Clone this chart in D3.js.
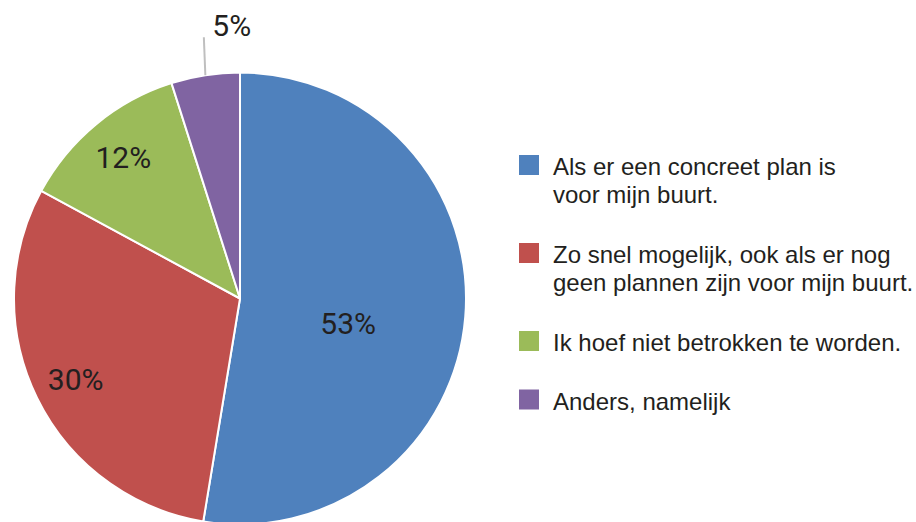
<!DOCTYPE html>
<html>
<head>
<meta charset="utf-8">
<script src="https://cdn.jsdelivr.net/npm/d3@7"></script>
<style>
  body { margin: 0; background: #fff; }
  svg { display: block; }
</style>
</head>
<body>
<svg width="916" height="522"></svg>
<script>
// data (shares in %, labels are shown rounded)
const categories = [
  "Als er een concreet plan is|voor mijn buurt.",
  "Zo snel mogelijk, ook als er nog|geen plannen zijn voor mijn buurt.",
  "Ik hoef niet betrokken te worden.",
  "Anders, namelijk"
];
const values = [52.6, 30.3, 12.2, 4.9];
const colors = ["#4f81bd", "#c0504d", "#9bbb59", "#8064a2"];

const rows = categories.map((c, i) => ({ name: c, value: values[i], color: colors[i] }));

const svg = d3.select("svg");
const cx = 240, cy = 298.5, R = 226;

const pie = d3.pie().value(d => d.value).sort(null);
const arcs = pie(rows);
const arc = d3.arc().innerRadius(0).outerRadius(R);

const g = svg.append("g").attr("transform", `translate(${cx},${cy})`);

g.selectAll("path")
  .data(arcs)
  .join("path")
    .attr("d", arc)
    .attr("fill", d => d.data.color)
    .attr("stroke", "#fff")
    .attr("stroke-width", 2)
    .attr("stroke-linejoin", "round");

// label placement: [radius, angle override in degrees or null, outside?]
const labelAt = [[111, 103, false], [183, null, false], [183, null, false], [R, null, true]];

const labelFont = "Roboto, 'Liberation Sans', Arial, sans-serif";
arcs.forEach((a, i) => {
  const [r, degOverride, outside] = labelAt[i];
  const ang = degOverride != null ? degOverride * Math.PI / 180 : (a.startAngle + a.endAngle) / 2;
  const x = r * Math.sin(ang), y = -r * Math.cos(ang);
  const txt = Math.round(a.data.value) + "%";
  if (!outside) {
    g.append("text")
      .attr("x", x).attr("y", y)
      .attr("text-anchor", "middle")
      .attr("dy", "0.36em")
      .attr("font-family", labelFont)
      .attr("font-size", 30)
      .attr("fill", "#231f20")
      .text(txt);
  } else {
    const top = y - 38;
    g.append("line")
      .attr("x1", x).attr("y1", y)
      .attr("x2", x - 1.5).attr("y2", top)
      .attr("stroke", "#bfbfbf")
      .attr("stroke-width", 2);
    g.append("text")
      .attr("x", x + 7).attr("y", top - 1)
      .attr("font-family", labelFont)
      .attr("font-size", 30)
      .attr("fill", "#231f20")
      .text(txt);
  }
});

// legend
const legend = svg.append("g").attr("transform", "translate(519,0)");
const lineH = 27.5;
let yPos = 155;
rows.forEach(d => {
  const lines = d.name.split("|");
  const item = legend.append("g").attr("transform", `translate(0,${yPos})`);
  item.append("rect")
    .attr("width", 20).attr("height", 20)
    .attr("fill", d.color);
  const t = item.append("text")
    .attr("x", 34)
    .attr("y", 20)
    .attr("font-family", "'Liberation Sans', Arial, sans-serif")
    .attr("font-size", 24)
    .attr("fill", "#231f20");
  lines.forEach((ln, j) => {
    t.append("tspan").attr("x", 34).attr("dy", j === 0 ? 0 : lineH).text(ln);
  });
  yPos += lines.length * 29.5 + 29;
});
</script>
</body>
</html>
